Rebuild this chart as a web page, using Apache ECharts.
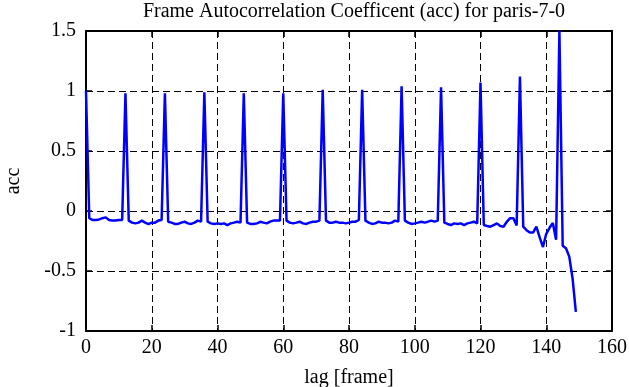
<!DOCTYPE html>
<html>
<head>
<meta charset="utf-8">
<script src="https://cdn.jsdelivr.net/npm/echarts@6/dist/echarts.min.js"></script>
<style>html,body{margin:0;padding:0;background:#fff}#c{width:629px;height:387px}</style>
</head>
<body>
<div id="c"></div>
<script>
var titleText = 'Frame Autocorrelation Coefficent (acc) for paris-7-0';
var xName = 'lag [frame]';
var yName = 'acc';
var xTicks = [0, 20, 40, 60, 80, 100, 120, 140, 160];
var yTicks = [-1, -0.5, 0, 0.5, 1, 1.5];
// acc value for lag 0..149
var acc = [
  1.0, -0.06, -0.075, -0.075, -0.07, -0.06, -0.053, -0.075, -0.08, -0.08,
  -0.075, -0.075, 0.98, -0.08, -0.097, -0.103, -0.097, -0.08, -0.097, -0.11,
  -0.097, -0.097, -0.08, -0.075, 0.98, -0.09, -0.097, -0.108, -0.108, -0.097,
  -0.089, -0.103, -0.108, -0.097, -0.08, -0.089, 0.99, -0.089, -0.103, -0.108,
  -0.103, -0.108, -0.103, -0.117, -0.103, -0.097, -0.089, -0.097, 0.98, -0.097,
  -0.108, -0.108, -0.103, -0.09, -0.097, -0.103, -0.089, -0.08, -0.08, -0.08,
  0.98, -0.08, -0.097, -0.103, -0.097, -0.089, -0.103, -0.108, -0.097, -0.089,
  -0.089, -0.08, 1.01, -0.08, -0.097, -0.097, -0.089, -0.097, -0.097, -0.103,
  -0.097, -0.089, -0.089, -0.075, 1.01, -0.08, -0.097, -0.108, -0.103, -0.089,
  -0.097, -0.097, -0.103, -0.097, -0.08, -0.089, 1.04, -0.08, -0.097, -0.108,
  -0.103, -0.097, -0.089, -0.097, -0.089, -0.08, -0.089, -0.08, 1.03, -0.097,
  -0.108, -0.117, -0.103, -0.108, -0.103, -0.117, -0.103, -0.097, -0.089, -0.103,
  1.07, -0.117, -0.125, -0.131, -0.117, -0.103, -0.125, -0.131, -0.09, -0.06,
  -0.06, -0.12, 1.12, -0.13, -0.16, -0.18, -0.18, -0.13, -0.22, -0.30,
  -0.19, -0.14, -0.10, -0.24, 1.5, -0.29, -0.31, -0.38, -0.56, -0.84
];

var seriesData = acc.map(function (v, i) { return [i, v]; });
var font = 'Liberation Serif';
var txt = {color: '#000', fontFamily: font, fontSize: 20};

function xAx(pos, main) {
  return {
    type: 'value', position: pos,
    min: xTicks[0], max: xTicks[xTicks.length - 1], interval: xTicks[1] - xTicks[0],
    axisLine: {show: true, onZero: false, lineStyle: {color: '#000', width: 2}},
    axisTick: {show: true, inside: true, length: 6, lineStyle: {color: '#000', width: 1.5}},
    axisLabel: main ? Object.assign({margin: 7}, txt) : {show: false},
    splitLine: main ? {show: true, lineStyle: {color: '#000', width: 1, type: [7, 4]}} : {show: false},
    name: main ? xName : '', nameLocation: 'middle', nameGap: 37,
    nameTextStyle: txt
  };
}
function yAx(pos, main) {
  return {
    type: 'value', position: pos,
    min: yTicks[0], max: yTicks[yTicks.length - 1], interval: yTicks[1] - yTicks[0],
    axisLine: {show: true, onZero: false, lineStyle: {color: '#000', width: 2}},
    axisTick: {show: true, inside: true, length: 6, lineStyle: {color: '#000', width: 1.5}},
    axisLabel: main ? Object.assign({margin: 10}, txt) : {show: false},
    splitLine: main ? {show: true, lineStyle: {color: '#000', width: 1, type: [7, 4]}} : {show: false},
    name: main ? yName : '', nameLocation: 'middle', nameGap: 62,
    nameTextStyle: txt
  };
}

var chart = echarts.init(document.getElementById('c'), null, {renderer: 'canvas'});
chart.setOption({
  animation: false,
  backgroundColor: '#fff',
  title: {
    text: titleText, left: 349, top: -3, textAlign: 'center',
    textStyle: {color: '#000', fontFamily: font, fontSize: 20, fontWeight: 'normal'}
  },
  grid: {left: 86, top: 31, right: 17, bottom: 56, containLabel: false, outerBoundsMode: 'none'},
  xAxis: [xAx('bottom', true), xAx('top', false)],
  yAxis: [yAx('left', true), yAx('right', false)],
  series: [{
    type: 'line', data: seriesData, xAxisIndex: 0, yAxisIndex: 0,
    showSymbol: false, symbol: 'none',
    lineStyle: {color: '#0000ff', width: 2.5},
    clip: true
  }]
});
</script>
</body>
</html>
